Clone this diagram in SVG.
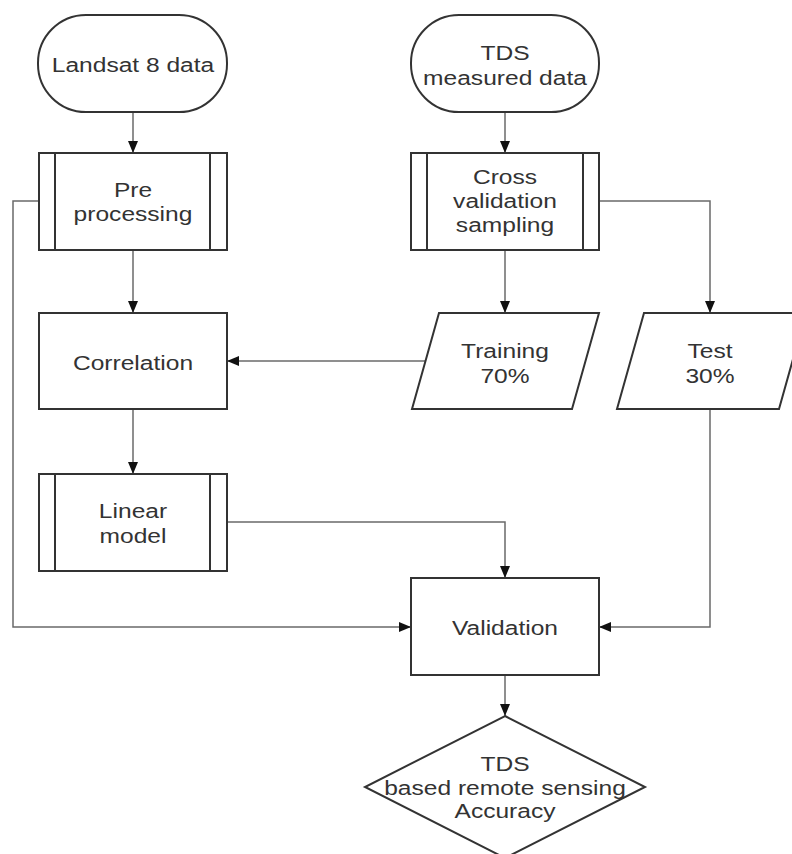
<svg xmlns="http://www.w3.org/2000/svg" width="792" height="854" viewBox="0 0 792 854">
  <defs>
    <marker id="arr" markerUnits="userSpaceOnUse" markerWidth="12" markerHeight="10" refX="12" refY="5" orient="auto">
      <path d="M0,0 L12,5 L0,10 z" fill="#111"/>
    </marker>
    <style>
      .shape { fill: #fff; stroke: #333; stroke-width: 2; }
      .inner { stroke: #333; stroke-width: 2; fill: none; }
      .conn { fill: none; stroke: #6a6a6a; stroke-width: 1.5; }
      .t { font-family: "Liberation Sans", Arial, sans-serif; font-size: 21px; fill: #333; text-anchor: middle; }
    </style>
  </defs>
  <rect width="792" height="854" fill="#fff"/>

  <g id="connectors">
    <path class="conn" d="M133,112 L133,153" marker-end="url(#arr)"/>
    <path class="conn" d="M133,250 L133,313" marker-end="url(#arr)"/>
    <path class="conn" d="M133,409 L133,474" marker-end="url(#arr)"/>
    <path class="conn" d="M505,112 L505,153" marker-end="url(#arr)"/>
    <path class="conn" d="M505,250 L505,313" marker-end="url(#arr)"/>
    <path class="conn" d="M599,201 L710,201 L710,313" marker-end="url(#arr)"/>
    <path class="conn" d="M425,361 L227,361" marker-end="url(#arr)"/>
    <path class="conn" d="M39,201 L13,201 L13,627 L411,627" marker-end="url(#arr)"/>
    <path class="conn" d="M227,522 L505,522 L505,578" marker-end="url(#arr)"/>
    <path class="conn" d="M710,409 L710,627 L599,627" marker-end="url(#arr)"/>
    <path class="conn" d="M505,675 L505,716" marker-end="url(#arr)"/>
  </g>

  <g id="landsat">
    <rect class="shape" x="38" y="15" width="189" height="97" rx="48" ry="48"/>
    <g transform="translate(133,0) scale(1.17,1)"><text class="t" x="0" y="72">Landsat 8 data</text></g>
  </g>

  <g id="tds-measured">
    <rect class="shape" x="411" y="15" width="188" height="97" rx="48" ry="48"/>
    <g transform="translate(505,0) scale(1.17,1)">
      <text class="t" x="0" y="60">TDS</text>
      <text class="t" x="0" y="85">measured data</text>
    </g>
  </g>

  <g id="preprocessing">
    <rect class="shape" x="39" y="153" width="188" height="97"/>
    <line class="inner" x1="55" y1="153" x2="55" y2="250"/>
    <line class="inner" x1="210" y1="153" x2="210" y2="250"/>
    <g transform="translate(133,0) scale(1.17,1)">
      <text class="t" x="0" y="197">Pre</text>
      <text class="t" x="0" y="221">processing</text>
    </g>
  </g>

  <g id="cross-validation">
    <rect class="shape" x="411" y="153" width="188" height="97"/>
    <line class="inner" x1="427" y1="153" x2="427" y2="250"/>
    <line class="inner" x1="583" y1="153" x2="583" y2="250"/>
    <g transform="translate(505,0) scale(1.17,1)">
      <text class="t" x="0" y="184">Cross</text>
      <text class="t" x="0" y="208">validation</text>
      <text class="t" x="0" y="232">sampling</text>
    </g>
  </g>

  <g id="correlation">
    <rect class="shape" x="39" y="313" width="188" height="96"/>
    <g transform="translate(133,0) scale(1.17,1)"><text class="t" x="0" y="370">Correlation</text></g>
  </g>

  <g id="training">
    <polygon class="shape" points="439,313 599,313 572,409 412,409"/>
    <g transform="translate(505,0) scale(1.17,1)">
      <text class="t" x="0" y="358">Training</text>
      <text class="t" x="0" y="383">70%</text>
    </g>
  </g>

  <g id="test">
    <polygon class="shape" points="644,313 806,313 779,409 617,409"/>
    <g transform="translate(710,0) scale(1.17,1)">
      <text class="t" x="0" y="358">Test</text>
      <text class="t" x="0" y="383">30%</text>
    </g>
  </g>

  <g id="linear-model">
    <rect class="shape" x="39" y="474" width="188" height="97"/>
    <line class="inner" x1="55" y1="474" x2="55" y2="571"/>
    <line class="inner" x1="210" y1="474" x2="210" y2="571"/>
    <g transform="translate(133,0) scale(1.17,1)">
      <text class="t" x="0" y="518">Linear</text>
      <text class="t" x="0" y="543">model</text>
    </g>
  </g>

  <g id="validation">
    <rect class="shape" x="411" y="578" width="188" height="97"/>
    <g transform="translate(505,0) scale(1.17,1)"><text class="t" x="0" y="635">Validation</text></g>
  </g>

  <g id="accuracy">
    <polygon class="shape" points="505,716 645,787 505,858 365,787"/>
    <g transform="translate(505,0) scale(1.17,1)">
      <text class="t" x="0" y="771">TDS</text>
      <text class="t" x="0" y="795">based remote sensing</text>
      <text class="t" x="0" y="818">Accuracy</text>
    </g>
  </g>
</svg>
